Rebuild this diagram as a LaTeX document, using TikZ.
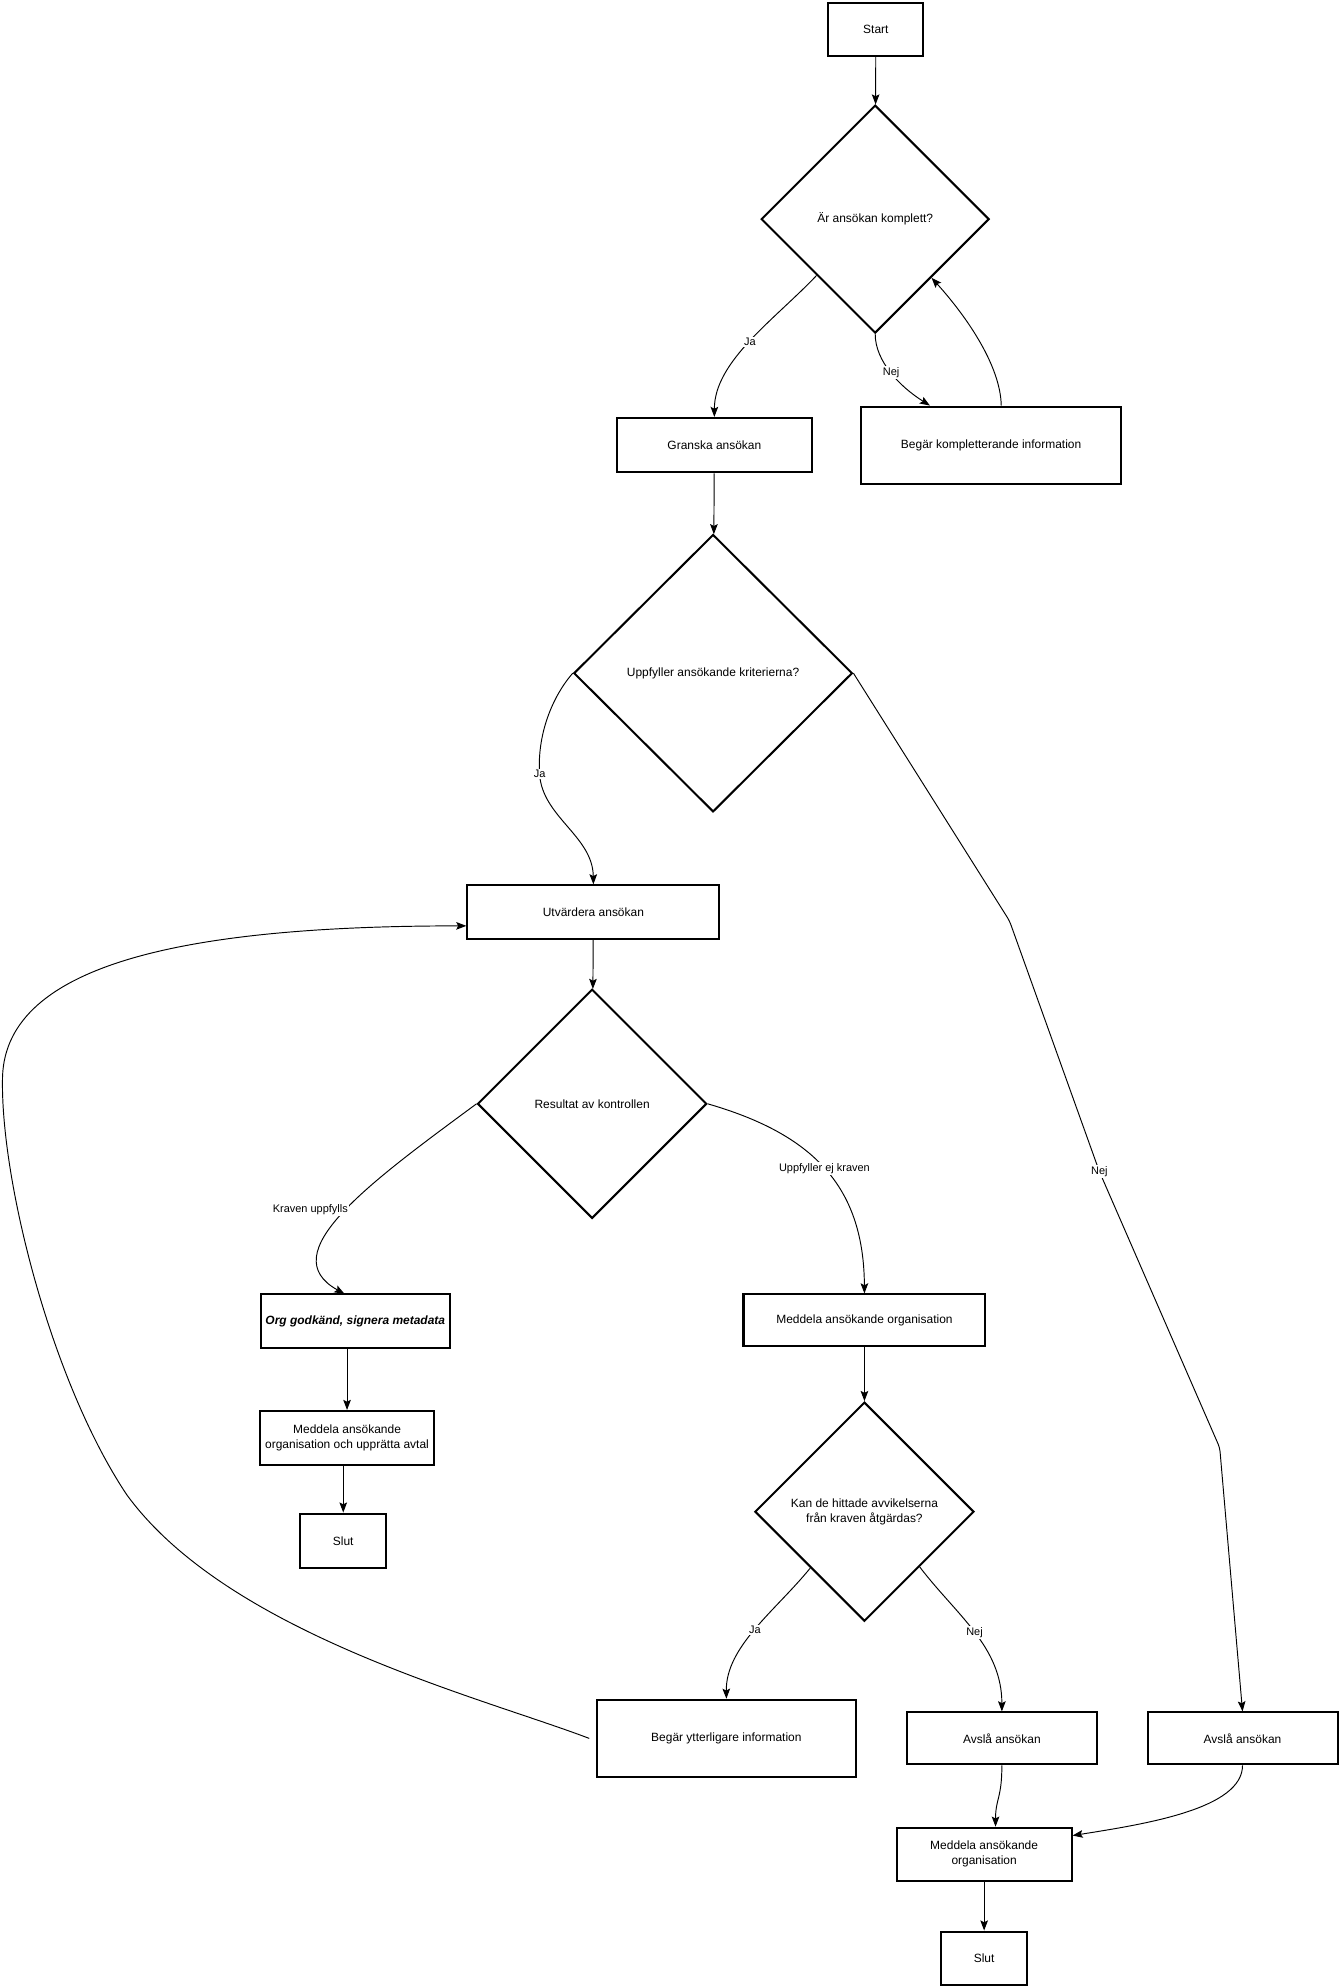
\documentclass[tikz,border=0pt]{standalone}
\usepackage{fontspec}
\setmainfont{Liberation Sans}
\usetikzlibrary{shapes.geometric,arrows.meta,calc}
\begin{document}
\begin{tikzpicture}[x=1pt,y=-1pt,
  every node/.style={font=\fontsize{9.45}{12}\selectfont, align=center, inner sep=0pt},
  box/.style={draw=black, line width=1.6pt, fill=white, rectangle},
  dia/.style={draw=black, line width=1.6pt, fill=white, diamond, aspect=1},
  conn/.style={draw=black, line width=0.75pt, -{Stealth[length=8pt,width=6pt,inset=1.5pt]}},
  lbl/.style={fill=white, font=\fontsize{8.65}{10}\selectfont, inner sep=1pt}]
\useasboundingbox (0,0) rectangle (1058,1568);
% nodes
\node[box, minimum width=75pt, minimum height=42pt] (start) at (691.5,23) {Start};
\node[dia, minimum width=180pt, minimum height=180pt] (d1) at (691,173) {Är ansökan komplett?};
\node[box, minimum width=154pt, minimum height=43pt] (granska) at (564,351.5) {Granska ansökan};
\node[box, minimum width=205pt, minimum height=61pt] (begk) at (782.5,351.5) {Begär kompletterande information};
\node[dia, minimum width=220pt, minimum height=219pt] (d2) at (563,531.5) {Uppfyller ansökande kriterierna?};
\node[box, minimum width=199pt, minimum height=42pt] (utv) at (468.5,720) {Utvärdera ansökan};
\node[dia, minimum width=181pt, minimum height=181pt] (d3) at (467.5,871.5) {Resultat av kontrollen};
\node[box, minimum width=149pt, minimum height=42pt, font=\fontsize{9.45}{12}\selectfont\bfseries\itshape] (org) at (280.5,1043) {Org godkänd, signera metadata};
\node[box, minimum width=191pt, minimum height=41pt] (medR) at (682.5,1042.5) {Meddela ansökande organisation};
\node[box, minimum width=138pt, minimum height=43pt] (medavt) at (274,1135.5) {Meddela ansökande\\organisation och upprätta avtal};
\node[box, minimum width=68pt, minimum height=43pt] (slut1) at (271,1216.5) {Slut};
\node[dia, minimum width=173pt, minimum height=173pt] (d4) at (682.5,1193.5) {Kan de hittade avvikelserna\\från kraven åtgärdas?};
\node[box, minimum width=205pt, minimum height=61pt] (begy) at (573.5,1372.5) {Begär ytterligare information};
\node[box, minimum width=150pt, minimum height=41pt] (avs1) at (791,1372.5) {Avslå ansökan};
\node[box, minimum width=150pt, minimum height=41pt] (avs2) at (981,1372.5) {Avslå ansökan};
\node[box, minimum width=138pt, minimum height=42pt] (medB) at (777,1464) {Meddela ansökande\\organisation};
\node[box, minimum width=68pt, minimum height=42pt] (slut2) at (777,1546) {Slut};
% helper coordinates
\coordinate (d1ll) at ($(d1.west)!0.49!(d1.south)$);
\coordinate (d1lr) at ($(d1.east)!0.51!(d1.south)$);
\coordinate (begkin) at ($(begk.north west)+(55,0)$);
\coordinate (begkout) at ($(begk.north)+(8,0)$);
\coordinate (utvin) at ($(utv.west)+(0,11)$);
\coordinate (d4ll) at ($(d4.west)!0.51!(d4.south)$);
\coordinate (d4lr) at ($(d4.east)!0.5!(d4.south)$);
\coordinate (medBin) at ($(medB.north)+(9,0)$);
\coordinate (medBr) at ($(medB.north east)+(0,7)$);
\coordinate (begyout) at ($(begy.west)+(-5,0)$);
% connectors
\draw[conn] (start) -- (d1);
\draw[conn] (d1ll) .. controls (612,252) and (564,285) .. (granska.north) node[lbl, pos=0.5] {Ja};
\draw[conn] (d1.south) .. controls (691,285) and (710,305) .. (begkin) node[lbl, pos=0.5] {Nej};
\draw[conn] (begkout) .. controls (790,290) and (765,252) .. (d1lr);
\draw[conn] (granska) -- (d2);
\draw[conn] (d2.west) .. controls (436,550) and (424,580) .. (426,611) node[lbl] {Ja} .. controls (428,645) and (468,660) .. (utv.north);
\draw[conn, rounded corners=3pt] (d2.east) -- (797,727) -- (868,925) node[lbl] {Nej} -- (963,1143) -- (avs2.north);
\draw[conn] (utv) -- (d3);
\draw[conn] (d3.west) .. controls (290,935) and (215,990) .. (272,1021.5);
\node[lbl] (lk) at (245,955) {Kraven uppfylls};
\draw[conn] (d3.east) .. controls (640,895) and (682,935) .. (medR.north) node[lbl, pos=0.5] {Uppfyller ej kraven};
\draw[conn] (medavt.north |- org.south) -- (medavt.north);
\draw[conn] (slut1.north |- medavt.south) -- (slut1.north);
\draw[conn] (medR) -- (d4);
\draw[conn] (d4ll) .. controls (612,1272) and (573,1300) .. (begy.north) node[lbl, pos=0.5] {Ja};
\draw[conn] (d4lr) .. controls (755,1275) and (791,1300) .. (avs1.north) node[lbl, pos=0.5] {Nej};
\draw[conn] (begyout) .. controls (380,1340) and (180,1290) .. (100,1180) .. controls (40,1090) and (0,930) .. (2,850) .. controls (5,760) and (150,731) .. (utvin);
\draw[conn] (avs1.south) .. controls (791,1420) and (786,1420) .. (medBin);
\draw[conn] (avs2.south) .. controls (981,1428) and (905,1440) .. (medBr);
\draw[conn] (medB) -- (slut2);
\end{tikzpicture}
\end{document}
